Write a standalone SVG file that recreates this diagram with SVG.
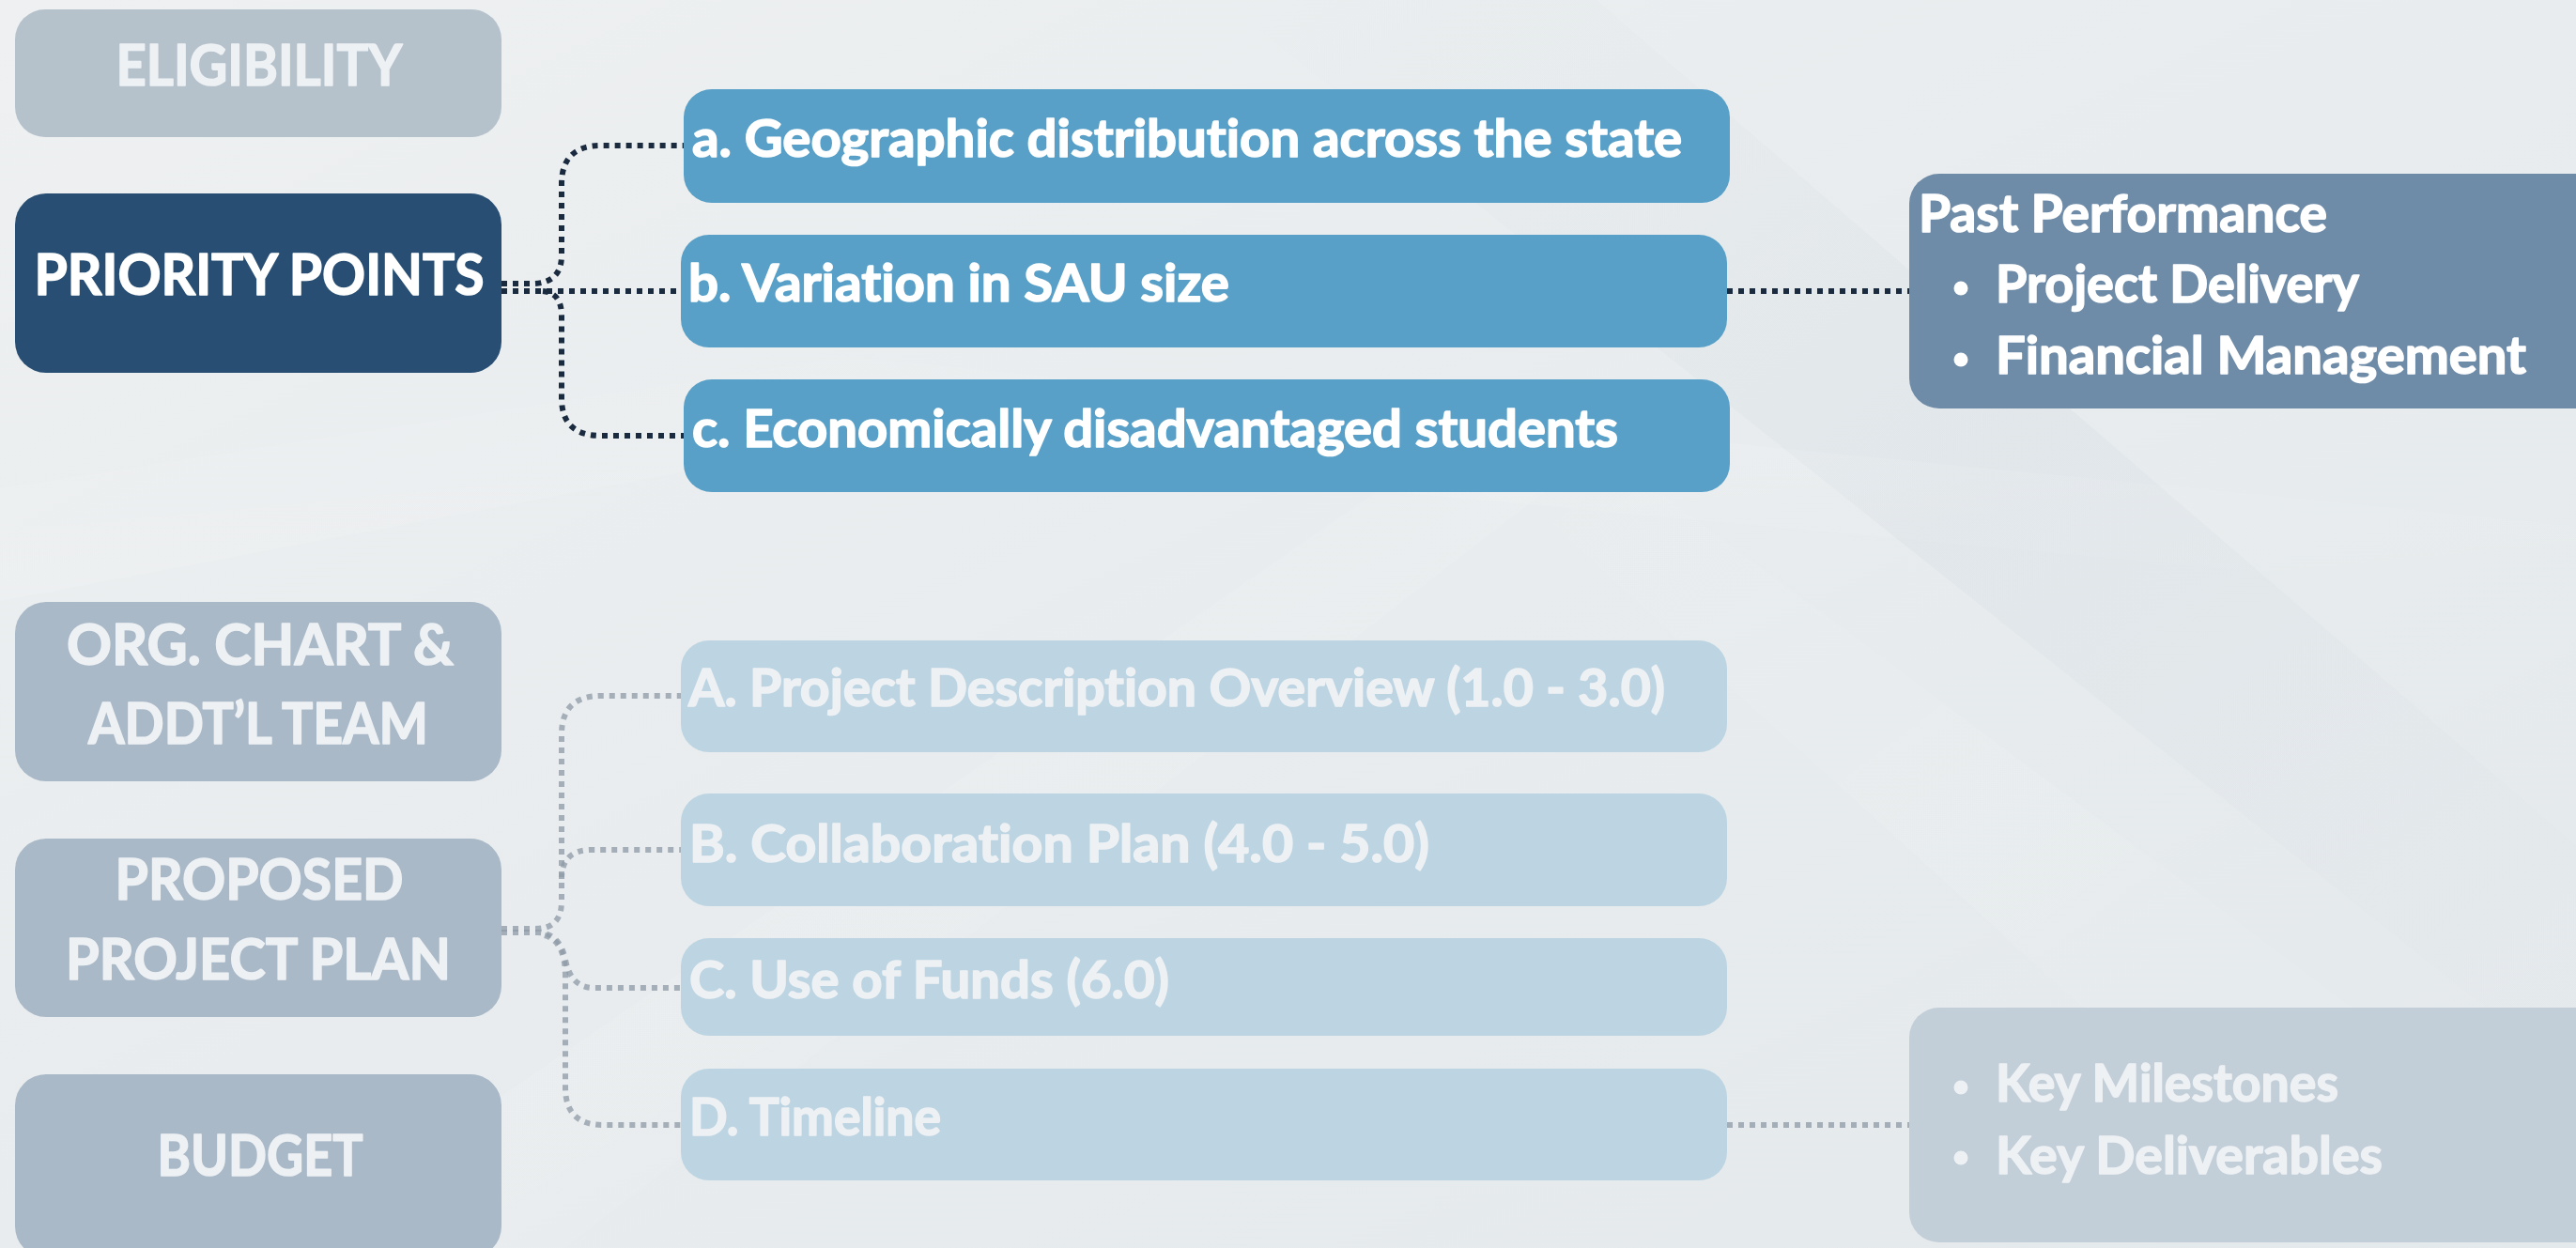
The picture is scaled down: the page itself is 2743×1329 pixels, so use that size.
<svg xmlns="http://www.w3.org/2000/svg" width="2743" height="1329" viewBox="0 0 2743 1329">
  <defs>
    <linearGradient id="bg" x1="0" y1="0" x2="1" y2="1">
      <stop offset="0" stop-color="#eef0f1"/>
      <stop offset="0.5" stop-color="#e8ecee"/>
      <stop offset="1" stop-color="#e4e9ec"/>
    </linearGradient>
    <linearGradient id="swoosh" x1="0" y1="0" x2="1" y2="1">
      <stop offset="0" stop-color="#ffffff" stop-opacity="0"/>
      <stop offset="0.5" stop-color="#ffffff" stop-opacity="0.3"/>
      <stop offset="1" stop-color="#ffffff" stop-opacity="0"/>
    </linearGradient>
    <linearGradient id="shade" x1="0" y1="0" x2="1" y2="1">
      <stop offset="0" stop-color="#cfd8e0" stop-opacity="0"/>
      <stop offset="0.5" stop-color="#cfd8e0" stop-opacity="0.25"/>
      <stop offset="1" stop-color="#cfd8e0" stop-opacity="0"/>
    </linearGradient>
    <style>
      .t { font-family: Lato, "Open Sans", "Liberation Sans", sans-serif; font-weight: 700; font-variant-ligatures: none; font-feature-settings: "liga" 0; stroke-width: 1.6; stroke-linejoin: round; }
      .big { font-size: 62px; }
      .mid { font-size: 56px; }
      .wh { fill: #ffffff; stroke: #ffffff; }
      .lt { fill: #eef1f4; stroke: #eef1f4; }
      .c { text-anchor: middle; }
      .dk { fill: none; stroke: #1b2b3f; stroke-width: 6; stroke-dasharray: 6 6; }
      .gy { fill: none; stroke: #8e99a5; stroke-opacity: 0.75; stroke-width: 6; stroke-dasharray: 6 6; }
    </style>
  </defs>

  <!-- background -->
  <rect x="0" y="0" width="2743" height="1329" fill="url(#bg)"/>
  <path d="M1300,0 L1700,0 L2743,900 L2743,1150 Z" fill="url(#shade)"/>
  <path d="M0,520 L900,380 L2743,560 L2743,640 L900,470 L0,640 Z" fill="url(#swoosh)" opacity="0.35"/>
  <path d="M300,1329 L1500,500 L1650,520 L600,1329 Z" fill="url(#swoosh)" opacity="0.3"/>
  <path d="M1600,400 L2743,1250 L2743,1329 L2500,1329 L1500,420 Z" fill="url(#swoosh)" opacity="0.3"/>

  <!-- connectors -->
  <g id="connectors">
    <path class="dk" d="M534,302 H570 Q598,300 598,272 V196 Q598,155 640,155 H728"/>
    <path class="dk" d="M534,310 H728"/>
    <path class="dk" d="M578,310 Q598,312 598,336 V424 Q598,464 640,464 H728"/>
    <path class="dk" d="M1839,310 H2033"/>

    <path class="gy" d="M534,989 H570 Q598,989 598,960 V782 Q598,741 640,741 H725"/>
    <path class="gy" d="M598,936 Q598,905 630,905 H725"/>
    <path class="gy" d="M534,993 H572 Q596,993 602,1022 Q608,1052 632,1052 H725"/>
    <path class="gy" d="M580,996 Q602,1002 602,1040 V1158 Q602,1198 642,1198 H725"/>
    <path class="gy" d="M1839,1198 H2033"/>
  </g>

  <!-- left column -->
  <g id="eligibility">
    <rect x="16" y="10" width="518" height="136" rx="32" fill="#b5c2cc"/>
    <text class="t big lt c" x="276" y="91" textLength="305" lengthAdjust="spacingAndGlyphs">ELIGIBILITY</text>
  </g>
  <g id="priority-points">
    <rect x="16" y="206" width="518" height="191" rx="33" fill="#284f73"/>
    <text class="t big wh c" x="276" y="314" textLength="479" lengthAdjust="spacingAndGlyphs">PRIORITY POINTS</text>
  </g>
  <g id="org-chart">
    <rect x="16" y="641" width="518" height="191" rx="33" fill="#a9b9c8"/>
    <text class="t big lt c" x="277" y="708" textLength="412" lengthAdjust="spacingAndGlyphs">ORG. CHART &amp;</text>
    <text class="t big lt c" x="275" y="792" textLength="362" lengthAdjust="spacingAndGlyphs">ADDT’L TEAM</text>
  </g>
  <g id="proposed-project-plan">
    <rect x="16" y="893" width="518" height="190" rx="33" fill="#a9b9c8"/>
    <text class="t big lt c" x="276" y="958" textLength="307" lengthAdjust="spacingAndGlyphs">PROPOSED</text>
    <text class="t big lt c" x="275" y="1043" textLength="410" lengthAdjust="spacingAndGlyphs">PROJECT PLAN</text>
  </g>
  <g id="budget">
    <rect x="16" y="1144" width="518" height="195" rx="33" fill="#a9b9c8"/>
    <text class="t big lt c" x="277" y="1252" textLength="219" lengthAdjust="spacingAndGlyphs">BUDGET</text>
  </g>

  <!-- priority sub-items -->
  <g id="item-a">
    <rect x="728" y="95" width="1114" height="121" rx="30" fill="#58a0c8"/>
    <text class="t mid wh" x="737" y="167" textLength="1054" lengthAdjust="spacingAndGlyphs">a. Geographic distribution across the state</text>
  </g>
  <g id="item-b">
    <rect x="725" y="250" width="1114" height="120" rx="30" fill="#58a0c8"/>
    <text class="t mid wh" x="733" y="321" textLength="576" lengthAdjust="spacingAndGlyphs">b. Variation in SAU size</text>
  </g>
  <g id="item-c">
    <rect x="728" y="404" width="1114" height="120" rx="30" fill="#58a0c8"/>
    <text class="t mid wh" x="737" y="476" textLength="986" lengthAdjust="spacingAndGlyphs">c. Economically disadvantaged students</text>
  </g>
  <g id="past-performance">
    <rect x="2033" y="185" width="740" height="250" rx="32" fill="#6e8ba8"/>
    <text class="t mid wh" x="2043" y="247" textLength="435" lengthAdjust="spacingAndGlyphs">Past Performance</text>
    <circle cx="2088" cy="307" r="7.5" fill="#ffffff"/>
    <text class="t mid wh" x="2125" y="322" textLength="387" lengthAdjust="spacingAndGlyphs">Project Delivery</text>
    <circle cx="2088" cy="383" r="7.5" fill="#ffffff"/>
    <text class="t mid wh" x="2125" y="398" textLength="565" lengthAdjust="spacingAndGlyphs">Financial Management</text>
  </g>

  <!-- project plan sub-items -->
  <g id="item-A">
    <rect x="725" y="682" width="1114" height="119" rx="30" fill="#bdd5e2"/>
    <text class="t mid lt" x="733" y="752" textLength="1040" lengthAdjust="spacingAndGlyphs">A. Project Description Overview (1.0 - 3.0)</text>
  </g>
  <g id="item-B">
    <rect x="725" y="845" width="1114" height="120" rx="30" fill="#bdd5e2"/>
    <text class="t mid lt" x="734" y="918" textLength="788" lengthAdjust="spacingAndGlyphs">B. Collaboration Plan (4.0 - 5.0)</text>
  </g>
  <g id="item-C">
    <rect x="725" y="999" width="1114" height="104" rx="30" fill="#bdd5e2"/>
    <text class="t mid lt" x="734" y="1063" textLength="511" lengthAdjust="spacingAndGlyphs">C. Use of Funds (6.0)</text>
  </g>
  <g id="item-D">
    <rect x="725" y="1138" width="1114" height="119" rx="30" fill="#bdd5e2"/>
    <text class="t mid lt" x="734" y="1209" textLength="268" lengthAdjust="spacingAndGlyphs">D. Timeline</text>
  </g>
  <g id="milestones">
    <rect x="2033" y="1073" width="740" height="250" rx="32" fill="#c2ced8"/>
    <circle cx="2088" cy="1158" r="7.5" fill="#eef1f4"/>
    <text class="t mid lt" x="2125" y="1173" textLength="365" lengthAdjust="spacingAndGlyphs">Key Milestones</text>
    <circle cx="2088" cy="1233" r="7.5" fill="#eef1f4"/>
    <text class="t mid lt" x="2125" y="1250" textLength="412" lengthAdjust="spacingAndGlyphs">Key Deliverables</text>
  </g>
</svg>
